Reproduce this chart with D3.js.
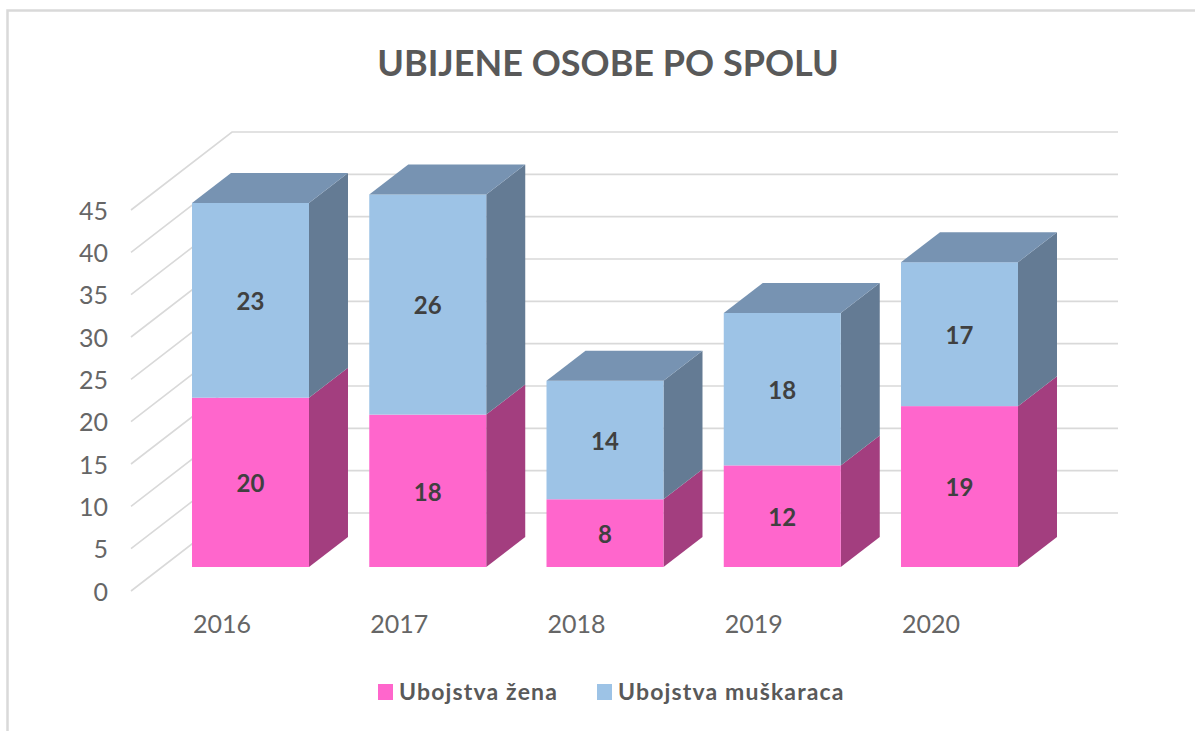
<!DOCTYPE html>
<html><head><meta charset="utf-8">
<script src="https://cdn.jsdelivr.net/npm/d3@7"></script>
<style>html,body{margin:0;padding:0;background:#fff;overflow:hidden}text{font-family:Lato,"Noto Sans",sans-serif}</style>
</head><body><svg id="c" width="1195" height="731"></svg>
<script>
const title = "UBIJENE OSOBE PO SPOLU";
const years = ["2016","2017","2018","2019","2020"];
const seriesNames = ["Ubojstva žena","Ubojstva muškaraca"];
const zene = [20,18,8,12,19];
const muskarci = [23,26,14,18,17];
const yTicks = [0,5,10,15,20,25,30,35,40,45];
const frontColors = ["#FF66CC","#9DC3E6"];
const sideColors = ["#A33E7F","#647B94"];
const topColor = "#7793B2";

const svg = d3.select("#c");
const W = 1195, H = 731;
const y = d3.scaleLinear().domain([0,45]).range([591,210]);
const x = d3.scaleBand().domain(years).range([192,1018]).paddingInner(0.34).paddingOuter(0);
const gridX0 = 131, wallDx = 101, wallDy = -78, gridEnd = 1118;
const barBase = -24, depthX = 39, depthY = -30;

// frame
svg.append("path").attr("d",`M${W},10.5H7.5V${H}`).attr("fill","none").attr("stroke","#d9d9d9").attr("stroke-width",2.5);

// title
svg.append("text").attr("x",608).attr("y",75.5).attr("text-anchor","middle")
  .attr("font-size",36).attr("font-weight",700).attr("fill","#595959").text(title);

// gridlines
const grid = svg.append("g").attr("fill","none").attr("stroke","#d9d9d9").attr("stroke-width",1.6);
yTicks.forEach(t=>{
  grid.append("polyline").attr("points",[
    [gridX0,y(t)],[gridX0+wallDx,y(t)+wallDy],[gridEnd,y(t)+wallDy]
  ].map(p=>p.join(",")).join(" "));
});

// axes
const yAxis = svg.append("g").attr("transform","translate(108,1)")
  .call(d3.axisLeft(y).tickValues(yTicks).tickSize(0).tickPadding(0));
const xAxis = svg.append("g").attr("transform","translate(-28.5,615.5)")
  .call(d3.axisBottom(x).tickSize(0).tickPadding(0));
[yAxis,xAxis].forEach(a=>{
  a.select(".domain").remove();
  a.selectAll("text").attr("font-size",25).attr("fill","#666666").style("font-family","Lato,'Noto Sans',sans-serif");
});

// bars
const rows = years.map((k,i)=>({year:k,a:zene[i],b:muskarci[i]}));
const stacked = d3.stack().keys(["a","b"])(rows);
const bars = svg.append("g");
const line = d3.line();
rows.forEach((r,i)=>{
  const x0 = x(r.year), x1 = x0 + x.bandwidth();
  stacked.forEach((s,k)=>{
    const [v0,v1] = s[i];
    const y0 = y(v0)+barBase, y1 = y(v1)+barBase;
    bars.append("path").attr("fill",sideColors[k])
      .attr("d",line([[x1,y0],[x1+depthX,y0+depthY],[x1+depthX,y1+depthY],[x1,y1]])+"Z");
    bars.append("rect").attr("x",x0).attr("y",y1).attr("width",x1-x0).attr("height",y0-y1).attr("fill",frontColors[k]);
    if(k===1){
      bars.append("path").attr("fill",topColor)
        .attr("d",line([[x0,y1],[x0+depthX,y1+depthY],[x1+depthX,y1+depthY],[x1,y1]])+"Z");
    }
  });
  stacked.forEach((s,k)=>{
    const [v0,v1] = s[i];
    bars.append("text").attr("x",(x0+x1)/2).attr("y",y((v0+v1)/2)+barBase+1.5).attr("dy","0.35em")
      .attr("text-anchor","middle").attr("font-size",24).attr("font-weight",700).attr("fill","#404040")
      .text(v1-v0);
  });
});

// legend
const legendX = [378,597];
seriesNames.forEach((n,i)=>{
  svg.append("rect").attr("x",legendX[i]).attr("y",684).attr("width",15).attr("height",16).attr("fill",frontColors[i]);
  svg.append("text").attr("x",legendX[i]+21).attr("y",692).attr("dy","0.35em")
    .attr("font-size",23).attr("font-weight",700).attr("letter-spacing",1.15).attr("fill","#595959").text(n);
});
</script></body></html>
